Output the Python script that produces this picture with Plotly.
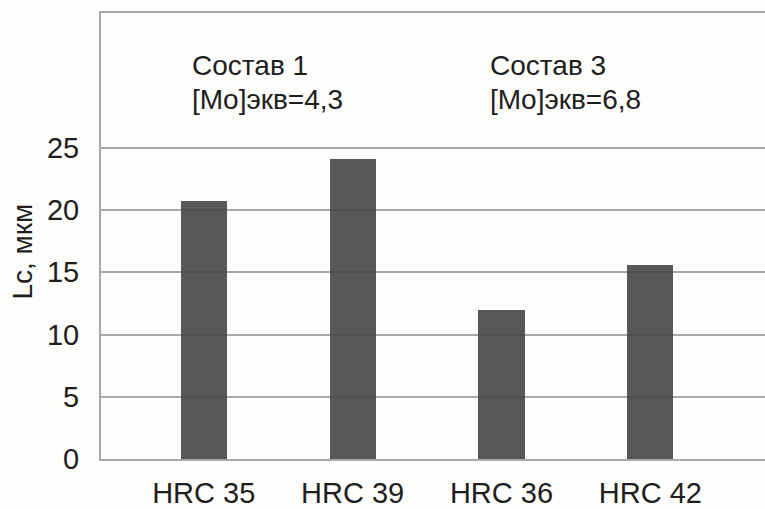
import plotly.graph_objects as go

categories = ["HRC 35", "HRC 39", "HRC 36", "HRC 42"]
lc_values = [20.7, 24.1, 12.0, 15.6]
y_ticks = [0, 5, 10, 15, 20, 25]
y_title = "Lc, мкм"
group_titles = ["Состав 1", "Состав 3"]
group_mo = ["[Mo]экв=4,3", "[Mo]экв=6,8"]
group_anchor_index = [0, 2]

FONT = "Liberation Sans, Arial, sans-serif"
TXT = "#1e1e1e"

fig = go.Figure()
fig.add_trace(go.Bar(
    x=list(range(len(categories))), y=lc_values,
    width=0.31,
    marker=dict(color="rgba(70,70,70,0.9)", line=dict(width=0)),
    showlegend=False,
))

for t, m, idx in zip(group_titles, group_mo, group_anchor_index):
    fig.add_annotation(x=idx - 0.09, y=31.6, text=t, showarrow=False,
                       xanchor="left", yanchor="middle", xref="x", yref="y",
                       font=dict(family=FONT, size=28, color=TXT))
    fig.add_annotation(x=idx - 0.09, y=28.9, text=m, showarrow=False,
                       xanchor="left", yanchor="middle", xref="x", yref="y",
                       font=dict(family=FONT, size=28, color=TXT))

# y-axis title placed as rotated annotation
fig.add_annotation(x=-0.1175, y=0.465, xref="paper", yref="paper",
                   text=y_title, textangle=-90, showarrow=False,
                   xanchor="center", yanchor="middle",
                   font=dict(family=FONT, size=28, color=TXT))

fig.update_layout(
    width=765, height=509,
    margin=dict(l=101, r=0, t=13, b=50, autoexpand=False),
    paper_bgcolor="#fdfdfb", plot_bgcolor="#fdfdfb",
    font=dict(family=FONT, color=TXT),
    bargap=0,
)
fig.update_xaxes(
    range=[-0.69, 3.77],
    tickvals=list(range(len(categories))), ticktext=categories,
    tickfont=dict(family=FONT, size=29, color=TXT),
    showgrid=False, zeroline=False,
    showline=True, mirror=True, linecolor="#a8a8a8", linewidth=2,
    ticks="", ticklabelstandoff=7, automargin=False,
)
fig.update_yaxes(
    range=[0, 35.84],
    tickvals=y_ticks,
    tickfont=dict(family=FONT, size=29, color=TXT),
    showgrid=True, gridcolor="#a8a8a8", gridwidth=2,
    zeroline=False,
    showline=True, linecolor="#a8a8a8", linewidth=2,
    ticks="", ticklabelstandoff=14, automargin=False,
)

fig.write_html(
    "out.html",
    config={"displayModeBar": False},
    post_script="document.body.style.margin='0';document.body.style.overflow='hidden';",
)
